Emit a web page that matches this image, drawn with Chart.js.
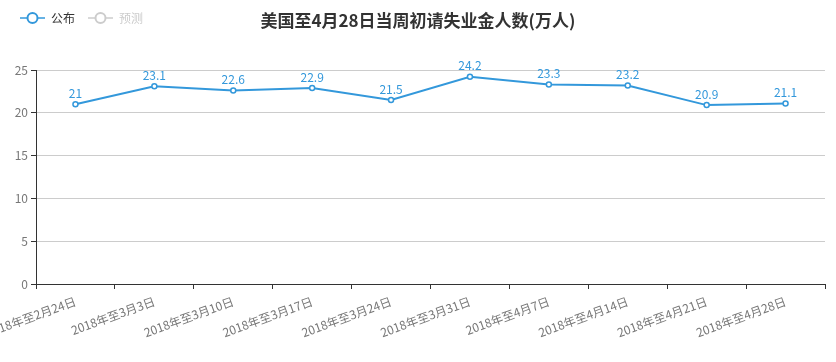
<!DOCTYPE html>
<html>
<head>
<meta charset="utf-8">
<script src="https://cdn.jsdelivr.net/npm/chart.js@4/dist/chart.umd.min.js"></script>
<style>
  html, body { margin: 0; padding: 0; background: #fff; }
</style>
</head>
<body>
<canvas id="chart" width="836" height="362"></canvas>
<script>
const titleText = "美国至4月28日当周初请失业金人数(万人)";
const legendNames = ["公布", "预测"];
const categories = [
  "2018年至2月24日", "2018年至3月3日", "2018年至3月10日", "2018年至3月17日",
  "2018年至3月24日", "2018年至3月31日", "2018年至4月7日", "2018年至4月14日",
  "2018年至4月21日", "2018年至4月28日"
];
const published = [21, 23.1, 22.6, 22.9, 21.5, 24.2, 23.3, 23.2, 20.9, 21.1];
const forecast = [];
const yTicks = [0, 5, 10, 15, 20, 25];

const BLUE = "#3398DB";
const FONT = "'Noto Sans CJK SC', 'Noto Sans', sans-serif";

// title + legend on one row, value labels over the points
const extras = {
  id: "extras",
  afterDatasetsDraw(chart) {
    const ctx = chart.ctx;
    ctx.save();
    // value labels
    ctx.fillStyle = BLUE;
    ctx.font = "12px " + FONT;
    ctx.textAlign = "center";
    ctx.textBaseline = "bottom";
    chart.getDatasetMeta(0).data.forEach((pt, i) => {
      ctx.fillText(String(published[i]), pt.x, pt.y - 5);
    });
    // title
    ctx.fillStyle = "#333";
    ctx.font = "bold 17px " + FONT;
    ctx.textBaseline = "middle";
    ctx.fillText(titleText, 418, 21);
    // legend
    const cols = [BLUE, "#ccc"];
    const txtCols = ["#333", "#ccc"];
    let x = 20;
    legendNames.forEach((name, i) => {
      ctx.strokeStyle = cols[i];
      ctx.lineWidth = 1.5;
      ctx.beginPath(); ctx.moveTo(x, 18); ctx.lineTo(x + 25, 18); ctx.stroke();
      ctx.fillStyle = "#fff";
      ctx.lineWidth = 2;
      ctx.beginPath(); ctx.arc(x + 12.5, 18, 5, 0, Math.PI * 2); ctx.fill(); ctx.stroke();
      ctx.fillStyle = txtCols[i];
      ctx.font = "12px " + FONT;
      ctx.textAlign = "left";
      ctx.fillText(name, x + 31, 18);
      x += 31 + ctx.measureText(name).width + 13;
    });
    ctx.restore();
  }
};

new Chart(document.getElementById("chart"), {
  type: "line",
  data: {
    labels: categories,
    datasets: [{
      label: legendNames[0],
      data: published,
      borderColor: BLUE,
      backgroundColor: "#fff",
      borderWidth: 2,
      pointRadius: 2.5,
      pointBorderWidth: 1.5,
      pointBackgroundColor: "#fff",
      pointBorderColor: BLUE,
      tension: 0,
      clip: false
    }, {
      label: legendNames[1],
      data: forecast,
      borderColor: "#ccc",
      backgroundColor: "#fff"
    }]
  },
  options: {
    responsive: false,
    animation: false,
    devicePixelRatio: 1,
    layout: { padding: { top: 70, right: 11, left: 0, bottom: 0 } },
    plugins: {
      title: { display: false },
      tooltip: { enabled: false },
      legend: { display: false }
    },
    scales: {
      x: {
        offset: true,
        afterFit: (axis) => {
          axis.height = 78;
          axis.paddingLeft = 0;
          axis.paddingRight = 0;
        },
        grid: { display: true, drawOnChartArea: false, offset: true, tickLength: 5, color: "#333" },
        border: { color: "#333", width: 1 },
        ticks: {
          color: "#777",
          font: { family: FONT, size: 12 },
          minRotation: 20,
          maxRotation: 20,
          autoSkip: false,
          padding: 5
        }
      },
      y: {
        min: 0,
        max: 25,
        afterFit: (axis) => { axis.width = 36; },
        afterBuildTicks: (axis) => { axis.ticks = yTicks.map(v => ({ value: v })); },
        grid: { color: "#ccc", tickColor: "#333", tickLength: 5 },
        border: { color: "#333", width: 1 },
        ticks: {
          color: "#777",
          font: { family: FONT, size: 12 },
          padding: 3
        }
      }
    }
  },
  plugins: [extras]
});
</script>
</body>
</html>
